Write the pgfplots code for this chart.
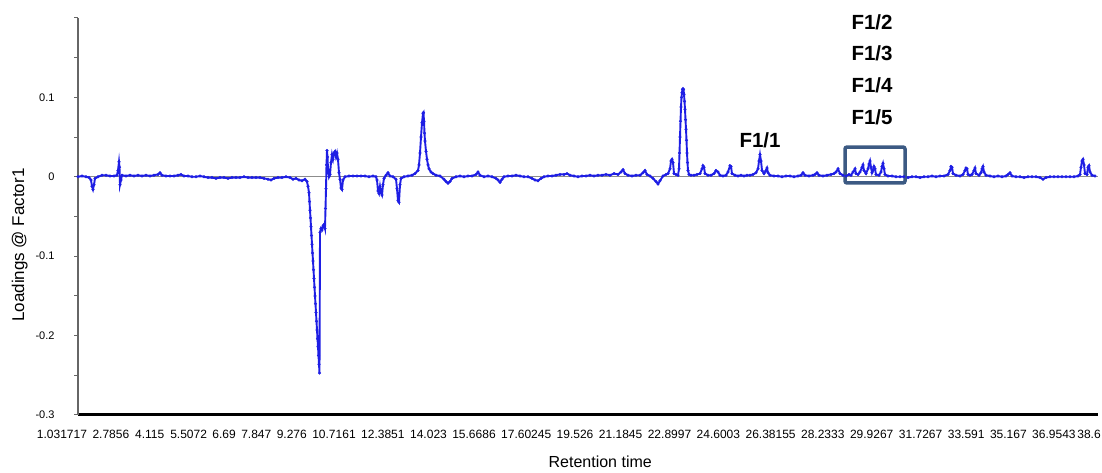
\documentclass[border=0pt]{standalone}
\usepackage{fontspec}
\setmainfont{Liberation Sans}
\usepackage{pgfplots}
\pgfplotsset{compat=1.18}
\definecolor{loadblue}{RGB}{30,30,228}
\definecolor{boxblue}{RGB}{60,90,131}

% loadings of factor 1 against sample position along the chromatogram
\pgfplotstableread{
x y
78 0
82 0.001
86 0
89 -0.001
91 -0.004
92 -0.012
93 -0.016
94 -0.010
95 -0.002
98 0.000
102 0.002
106 0.002
110 0.001
114 0.001
117 0.002
118 0.008
119 0.019
119.5 0.012
120 -0.010
121 -0.004
122 0.002
126 0.001
130 0.002
134 0.001
138 0.002
142 0.001
146 0.002
150 0.001
154 0.002
158 0.003
160 0.005
162 0.002
166 0.001
170 0.001
174 0.001
178 0.002
181 0.003
184 0.001
188 0.001
192 0.000
196 0.000
200 0.001
204 0.000
208 -0.001
212 -0.001
216 -0.002
220 -0.001
224 -0.001
228 -0.002
232 -0.001
236 -0.001
240 -0.001
244 0.000
248 -0.001
252 -0.001
256 -0.001
260 -0.001
264 -0.002
268 -0.003
271 -0.004
274 -0.002
278 -0.001
282 -0.001
286 0.000
290 -0.001
293 -0.003
296 -0.002
299 -0.004
302 -0.005
305 -0.003
307 -0.006
308 -0.012
309 -0.020
309.5 -0.031
310 -0.042
310.5 -0.052
311 -0.063
311.5 -0.074
312 -0.085
312.5 -0.096
313 -0.106
313.5 -0.117
314 -0.128
314.5 -0.139
315 -0.150
315.5 -0.160
316 -0.171
316.5 -0.182
317 -0.193
317.5 -0.204
318 -0.214
318.5 -0.225
319 -0.236
319.5 -0.247
320 -0.070
321 -0.065
322 -0.067
323 -0.062
324 -0.060
325 -0.065
325.5 -0.040
326 -0.015
326.5 0.015
327 0.033
327.5 0.025
328 0.010
329 0.000
330 0.003
331 0.018
332 0.028
333 0.022
334 0.030
335 0.032
336 0.025
337 0.030
338 0.022
339 0.005
340 -0.003
341 -0.014
342 -0.016
343 -0.004
345 0.000
349 0.001
353 0.001
357 0.001
361 0.001
365 0.001
369 0.000
373 0.001
376 0.000
377 -0.004
378 -0.018
379 -0.021
380 -0.012
381 -0.020
382 -0.023
383 -0.010
384 -0.002
386 0.002
388 0.005
390 0.001
393 0.000
396 -0.003
397 -0.015
398 -0.030
399 -0.032
400 -0.010
401 -0.002
404 0.000
408 0.001
412 0.002
415 0.004
418 0.008
419 0.015
420 0.030
421 0.050
422 0.068
423 0.080
423.5 0.081
424 0.070
424.5 0.055
425 0.045
426 0.032
427 0.022
428 0.015
429 0.010
431 0.006
433 0.004
436 0.002
440 0.001
444 -0.003
446 -0.006
448 -0.008
450 -0.006
452 -0.002
456 0.000
460 0.001
464 0.000
468 0.001
472 0.001
476 0.003
478 0.006
480 0.002
484 0.000
488 0.001
492 0.000
496 -0.002
498 -0.004
500 -0.007
502 -0.003
504 0.000
508 0.001
512 0.001
516 0.002
520 0.001
524 0.000
528 0.000
532 -0.002
535 -0.004
538 -0.005
541 -0.002
544 0.000
548 0.001
552 0.001
556 0.002
560 0.003
564 0.003
567 0.004
570 0.002
574 0.001
578 0.000
582 0.001
586 0.001
590 0.002
594 0.001
598 0.002
602 0.002
606 0.003
610 0.002
614 0.004
618 0.003
621 0.006
623 0.009
625 0.004
628 0.002
632 0.001
636 0.002
640 0.002
643 0.005
645 0.008
647 0.003
650 0.001
653 -0.002
656 -0.006
658 -0.009
660 -0.005
663 0.001
666 0.003
668 0.004
670 0.010
671 0.020
672 0.022
673 0.018
674 0.004
676 0.003
678 0.002
679 0.010
679.5 0.030
680 0.050
680.5 0.070
681 0.088
681.5 0.100
682 0.106
682.5 0.110
683 0.111
683.5 0.110
684 0.104
684.5 0.095
685 0.085
685.5 0.072
686 0.060
686.5 0.046
687 0.030
687.5 0.018
688 0.008
689 0.003
691 0.002
694 0.002
697 0.003
700 0.004
702 0.010
703 0.014
704 0.012
705 0.004
708 0.002
711 0.002
714 0.004
716 0.008
718 0.006
720 0.002
723 0.001
726 0.002
728 0.006
730 0.014
731 0.013
732 0.004
735 0.002
738 0.001
741 0.002
744 0.001
747 0.002
750 0.002
753 0.003
756 0.005
758 0.010
759 0.020
760 0.028
761 0.020
762 0.008
764 0.004
766 0.008
767 0.011
768 0.005
770 0.002
774 0.001
778 0.001
782 0.000
786 0.001
790 0.001
794 0.000
798 0.001
801 0.002
803 0.005
805 0.002
809 0.001
813 0.002
815 0.003
817 0.005
819 0.002
823 0.001
827 0.002
831 0.003
834 0.004
836 0.006
838 0.010
840 0.004
843 0.002
846 0.001
849 0.003
851 0.002
853 0.006
855 0.010
856 0.004
858 0.003
860 0.006
862 0.012
863 0.015
864 0.008
866 0.004
868 0.010
869 0.016
870 0.020
871 0.012
872 0.005
873 0.008
874 0.013
875 0.010
876 0.003
879 0.002
881 0.006
882 0.013
883 0.017
884 0.010
885 0.003
888 0.001
892 0.001
896 0.000
900 0.000
904 0.000
908 -0.001
912 0.000
916 0.000
920 -0.001
924 0.000
928 0.000
932 0.001
936 0.000
940 0.001
944 0.001
948 0.003
950 0.008
951 0.013
952 0.012
953 0.004
956 0.002
960 0.001
963 0.003
965 0.008
966 0.011
967 0.010
968 0.003
970 0.002
972 0.003
974 0.008
975 0.011
976 0.004
979 0.002
981 0.005
982 0.010
983 0.013
984 0.006
986 0.002
990 0.001
994 0.000
998 0.001
1002 0.000
1006 0.001
1008 0.003
1010 0.005
1012 0.001
1016 0.000
1020 0.000
1024 -0.001
1028 0.000
1032 0.000
1036 0.000
1040 -0.001
1043 -0.003
1046 -0.001
1050 0.000
1054 0.000
1058 0.000
1062 0.000
1066 0.000
1070 0.000
1074 0.000
1078 0.001
1080 0.003
1081 0.012
1082 0.020
1083 0.022
1084 0.015
1085 0.004
1087 0.003
1088 0.012
1089 0.014
1090 0.006
1092 0.002
1095 0.001
}\loadings

\begin{document}
\begin{tikzpicture}[x=1pt,y=1pt]
\begin{axis}[
    at={(78pt,58pt)}, anchor=south west,
    width=1020pt, height=397pt, scale only axis,
    xmin=78, xmax=1098,
    ymin=-0.3, ymax=0.2,
    axis x line*=bottom, axis y line*=left,
    x axis line style={black, line width=3pt},
    y axis line style={black!60, line width=1.2pt},
    xtick={78,110.9,149.7,188.6,224.1,256.3,291.8,334,382.9,428.5,474,526.2,575,620.6,669.5,718.4,770.6,822.8,871.7,920.6,966.2,1008.4,1053.9,1089},
    xticklabels={\hspace*{-32pt}1.031717,2.7856,4.115,5.5072,6.69,7.847,9.276,10.7161,12.3851,14.023,15.6686,17.60245,19.526,21.1845,22.8997,24.6003,26.38155,28.2333,29.9267,31.7267,33.591,35.167,36.9543,38.6},
    xtick style={draw=none},
    xticklabel style={font=\fontsize{12}{12}\selectfont, yshift=-8pt},
    ytick={-0.3,-0.25,-0.2,-0.15,-0.1,-0.05,0,0.05,0.1,0.15,0.2},
    yticklabels={-0.3,,-0.2,,-0.1,,0,,0.1,,},
    tick align=outside,
    major tick length=4pt,
    ytick style={black!60, line width=1pt},
    yticklabel style={font=\fontsize{11}{11}\selectfont, xshift=-16pt},
    xlabel={Retention time},
    xlabel style={font=\fontsize{16}{16}\selectfont, at={(axis description cs:0.512,-0.118)}, anchor=center},
    ylabel={Loadings @ Factor1},
    ylabel style={font=\fontsize{17}{17}\selectfont, at={(axis description cs:-0.057,0.428)}, anchor=center},
    clip=false,
]
\draw[black!45, line width=0.8pt] (axis cs:78,0) -- (axis cs:1098,0);
\addplot[color=loadblue, line width=1.9pt, mark=*, mark size=1.4pt,
         mark options={fill=loadblue, draw=loadblue, line width=0.3pt}] table[x=x, y=y] {\loadings};
\node[font=\fontsize{20.5}{20.5}\selectfont\bfseries] at (axis cs:760,0.0464) {F1/1};
\node[font=\fontsize{20.5}{20.5}\selectfont\bfseries] at (axis cs:872,0.1950) {F1/2};
\node[font=\fontsize{20.5}{20.5}\selectfont\bfseries] at (axis cs:872,0.1559) {F1/3};
\node[font=\fontsize{20.5}{20.5}\selectfont\bfseries] at (axis cs:872,0.1156) {F1/4};
\node[font=\fontsize{20.5}{20.5}\selectfont\bfseries] at (axis cs:872,0.0753) {F1/5};
\draw[boxblue, line width=3.5pt, rounded corners=2pt] (axis cs:845,0.0375) rectangle (axis cs:905,-0.0078);
\end{axis}
\pgfresetboundingbox
\path[use as bounding box] (0,0) rectangle (1102pt,473pt);
\end{tikzpicture}
\end{document}
